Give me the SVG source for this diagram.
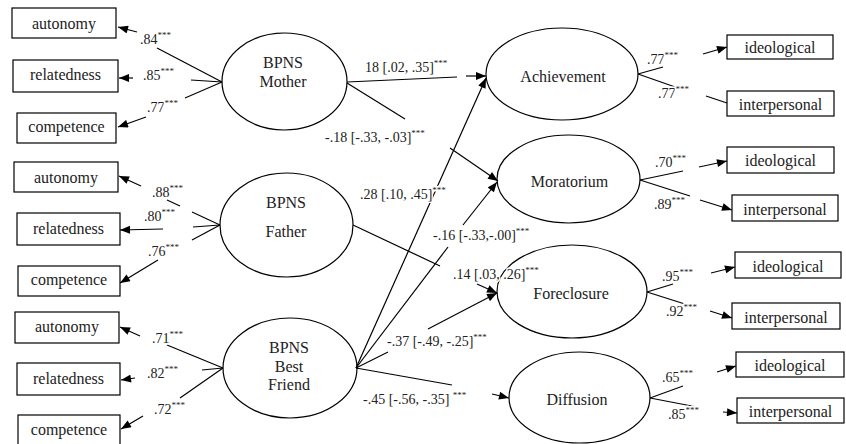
<svg xmlns="http://www.w3.org/2000/svg" width="846" height="444" viewBox="0 0 846 444" font-family="'Liberation Serif', Tinos, 'Nimbus Roman', 'Nimbus Roman No9 L', FreeSerif, 'Noto Serif', 'DejaVu Serif', Times, serif">
<defs>
<marker id="ah" viewBox="0 0 10 8" refX="10" refY="4" markerWidth="11" markerHeight="8" markerUnits="userSpaceOnUse" orient="auto">
<path d="M0,0 L10,4 L0,8 z" fill="#000"/>
</marker>
<style>
.box{fill:#fff;stroke:#000;stroke-width:1.2}
.ell{fill:none;stroke:#000;stroke-width:1.2}
.nt{font-size:16px;fill:#222;text-anchor:middle}
.lb{font-size:14px;fill:#222;stroke:#fff;stroke-width:3px;stroke-linejoin:round;paint-order:stroke}
.sup{font-size:9px}
.ln{stroke:#000;stroke-width:1.2;fill:none}
.ar{stroke:#000;stroke-width:1.2;fill:none;marker-end:url(#ah)}
</style>
</defs>
<rect width="846" height="444" fill="#fff"/>

<g id="connectors">
<line class="ar" x1="137" y1="32" x2="118" y2="27"/>
<line class="ln" x1="157" y1="48" x2="222" y2="82"/>
<line class="ar" x1="133" y1="78" x2="119" y2="78"/>
<line class="ln" x1="191" y1="80" x2="222" y2="82"/>
<line class="ar" x1="146" y1="117" x2="118" y2="127"/>
<line class="ln" x1="185" y1="98" x2="222" y2="82"/>
<line class="ar" x1="141" y1="186" x2="119" y2="176"/>
<line class="ln" x1="167" y1="200" x2="180" y2="206"/>
<line class="ln" x1="192" y1="212" x2="220" y2="225"/>
<line class="ar" x1="163" y1="229" x2="120" y2="230"/>
<line class="ln" x1="193" y1="227" x2="220" y2="225"/>
<line class="ar" x1="158" y1="260" x2="120" y2="283"/>
<line class="ln" x1="192" y1="240" x2="220" y2="225"/>
<line class="ar" x1="140" y1="336" x2="120" y2="327"/>
<line class="ln" x1="167" y1="345" x2="223" y2="368"/>
<line class="ar" x1="135" y1="378" x2="121" y2="380"/>
<line class="ln" x1="202" y1="370" x2="223" y2="368"/>
<line class="ar" x1="143" y1="416" x2="121" y2="429"/>
<line class="ln" x1="180" y1="398" x2="223" y2="368"/>
<line class="ln" x1="347" y1="82" x2="457" y2="77"/>
<line class="ar" x1="466" y1="76" x2="486" y2="76"/>
<line class="ln" x1="347" y1="83" x2="405" y2="119"/>
<line class="ar" x1="450" y1="148" x2="498" y2="181"/>
<line class="ln" x1="353" y1="225" x2="440" y2="266"/>
<line class="ar" x1="477" y1="284" x2="497" y2="293"/>
<line class="ar" x1="356" y1="368" x2="486" y2="78"/>
<line class="ln" x1="356" y1="368" x2="448" y2="247"/>
<line class="ar" x1="463" y1="225" x2="497" y2="182"/>
<line class="ln" x1="356" y1="368" x2="388" y2="352"/>
<line class="ar" x1="428" y1="329" x2="497" y2="293"/>
<line class="ln" x1="356" y1="368" x2="452" y2="385"/>
<line class="ar" x1="492" y1="394" x2="509" y2="398"/>
<line class="ln" x1="638" y1="74" x2="663" y2="67"/>
<line class="ar" x1="703" y1="54" x2="727" y2="47"/>
<line class="ln" x1="638" y1="74" x2="678" y2="88"/>
<line class="ln" x1="706" y1="96" x2="727" y2="103"/>
<line class="ln" x1="640" y1="180" x2="683" y2="171"/>
<line class="ar" x1="699" y1="167" x2="727" y2="161"/>
<line class="ln" x1="640" y1="180" x2="690" y2="196"/>
<line class="ar" x1="700" y1="200" x2="732" y2="210"/>
<line class="ln" x1="647" y1="292" x2="673" y2="284"/>
<line class="ar" x1="711" y1="273" x2="735" y2="267"/>
<line class="ln" x1="647" y1="292" x2="688" y2="305"/>
<line class="ar" x1="710" y1="311" x2="732" y2="318"/>
<line class="ln" x1="650" y1="398" x2="683" y2="386"/>
<line class="ar" x1="717" y1="372" x2="736" y2="366"/>
<line class="ln" x1="650" y1="398" x2="697" y2="407"/>
<line class="ar" x1="723" y1="412" x2="737" y2="413"/>
</g>

<g id="m_autonomy"><rect class="box" x="12" y="8" width="104" height="30"/><text class="nt" x="64" y="29">autonomy</text></g>
<g id="m_relatedness"><rect class="box" x="13" y="60" width="105" height="32"/><text class="nt" x="65.5" y="80">relatedness</text></g>
<g id="m_competence"><rect class="box" x="17" y="113" width="99" height="30"/><text class="nt" x="66.5" y="132">competence</text></g>
<g id="f_autonomy"><rect class="box" x="14" y="162" width="104" height="30"/><text class="nt" x="66" y="183">autonomy</text></g>
<g id="f_relatedness"><rect class="box" x="17" y="213" width="103" height="32"/><text class="nt" x="68.5" y="234">relatedness</text></g>
<g id="f_competence"><rect class="box" x="18" y="266" width="102" height="30"/><text class="nt" x="69" y="285">competence</text></g>
<g id="b_autonomy"><rect class="box" x="15" y="312" width="104" height="31"/><text class="nt" x="67" y="332">autonomy</text></g>
<g id="b_relatedness"><rect class="box" x="17" y="363" width="103" height="32"/><text class="nt" x="68.5" y="384">relatedness</text></g>
<g id="b_competence"><rect class="box" x="18" y="415" width="102" height="30"/><text class="nt" x="69" y="435">competence</text></g>

<g id="bpns_mother"><ellipse class="ell" cx="284.5" cy="81.5" rx="62.5" ry="48.5"/><text class="nt" x="283" y="68">BPNS</text><text class="nt" x="283" y="87">Mother</text></g>
<g id="bpns_father"><ellipse class="ell" cx="286.5" cy="225" rx="66.5" ry="52"/><text class="nt" x="286" y="208">BPNS</text><text class="nt" x="286" y="237">Father</text></g>
<g id="bpns_friend"><ellipse class="ell" cx="290" cy="368" rx="67" ry="50"/><text class="nt" x="289" y="353">BPNS</text><text class="nt" x="289" y="372">Best</text><text class="nt" x="289" y="390">Friend</text></g>

<g id="achievement"><ellipse class="ell" cx="562" cy="74" rx="76" ry="46"/><text class="nt" x="563" y="82">Achievement</text></g>
<g id="moratorium"><ellipse class="ell" cx="568.5" cy="179" rx="71.5" ry="44"/><text class="nt" x="569.5" y="187">Moratorium</text></g>
<g id="foreclosure"><ellipse class="ell" cx="572" cy="291.5" rx="75" ry="46.5"/><text class="nt" x="571" y="299">Foreclosure</text></g>
<g id="diffusion"><ellipse class="ell" cx="579.5" cy="397.5" rx="70.5" ry="45.5"/><text class="nt" x="577" y="405">Diffusion</text></g>

<g id="a_ideological"><rect class="box" x="727" y="35" width="106" height="24"/><text class="nt" x="780" y="53">ideological</text></g>
<g id="a_interpersonal"><rect class="box" x="727" y="91" width="107" height="25"/><text class="nt" x="780.5" y="110">interpersonal</text></g>
<g id="mo_ideological"><rect class="box" x="727" y="147" width="107" height="26"/><text class="nt" x="780.5" y="166">ideological</text></g>
<g id="mo_interpersonal"><rect class="box" x="732" y="195" width="106" height="26"/><text class="nt" x="785" y="215">interpersonal</text></g>
<g id="fo_ideological"><rect class="box" x="735" y="252" width="106" height="26"/><text class="nt" x="788" y="272">ideological</text></g>
<g id="fo_interpersonal"><rect class="box" x="732" y="303" width="108" height="26"/><text class="nt" x="786" y="323">interpersonal</text></g>
<g id="d_ideological"><rect class="box" x="736" y="352" width="108" height="25"/><text class="nt" x="790" y="371">ideological</text></g>
<g id="d_interpersonal"><rect class="box" x="737" y="398" width="107" height="25"/><text class="nt" x="790.5" y="417">interpersonal</text></g>

<g id="labels">
<text class="lb" x="140" y="44">.84<tspan class="sup" dy="-6">***</tspan></text>
<text class="lb" x="143" y="80">.85<tspan class="sup" dy="-6">***</tspan></text>
<text class="lb" x="147" y="112">.77<tspan class="sup" dy="-6">***</tspan></text>
<text class="lb" x="152" y="197">.88<tspan class="sup" dy="-6">***</tspan></text>
<text class="lb" x="144" y="221">.80<tspan class="sup" dy="-6">***</tspan></text>
<text class="lb" x="148" y="256">.76<tspan class="sup" dy="-6">***</tspan></text>
<text class="lb" x="152" y="343">.71<tspan class="sup" dy="-6">***</tspan></text>
<text class="lb" x="147" y="378">.82<tspan class="sup" dy="-6">***</tspan></text>
<text class="lb" x="154" y="414">.72<tspan class="sup" dy="-6">***</tspan></text>
<text class="lb" x="365" y="72">18 [.02, .35]<tspan class="sup" dy="-6">***</tspan></text>
<text class="lb" x="325" y="142">-.18 [-.33, -.03]<tspan class="sup" dy="-6">***</tspan></text>
<text class="lb" x="360" y="199">.28 [.10, .45]<tspan class="sup" dy="-6">***</tspan></text>
<text class="lb" x="433" y="240">-.16 [-.33,-.00]<tspan class="sup" dy="-6">***</tspan></text>
<text class="lb" x="453" y="279">.14 [.03, .26]<tspan class="sup" dy="-6">***</tspan></text>
<text class="lb" x="387" y="346">-.37 [-.49, -.25]<tspan class="sup" dy="-6">***</tspan></text>
<text class="lb" x="363" y="404">-.45 [-.56, -.35] <tspan class="sup" dy="-6">***</tspan></text>
<text class="lb" x="647" y="64">.77<tspan class="sup" dy="-6">***</tspan></text>
<text class="lb" x="658" y="98">.77<tspan class="sup" dy="-6">***</tspan></text>
<text class="lb" x="655" y="167">.70<tspan class="sup" dy="-6">***</tspan></text>
<text class="lb" x="654" y="209">.89<tspan class="sup" dy="-6">***</tspan></text>
<text class="lb" x="662" y="281">.95<tspan class="sup" dy="-6">***</tspan></text>
<text class="lb" x="666" y="316">.92<tspan class="sup" dy="-6">***</tspan></text>
<text class="lb" x="662" y="382">.65<tspan class="sup" dy="-6">***</tspan></text>
<text class="lb" x="668" y="419">.85<tspan class="sup" dy="-6">***</tspan></text>
</g>
</svg>
